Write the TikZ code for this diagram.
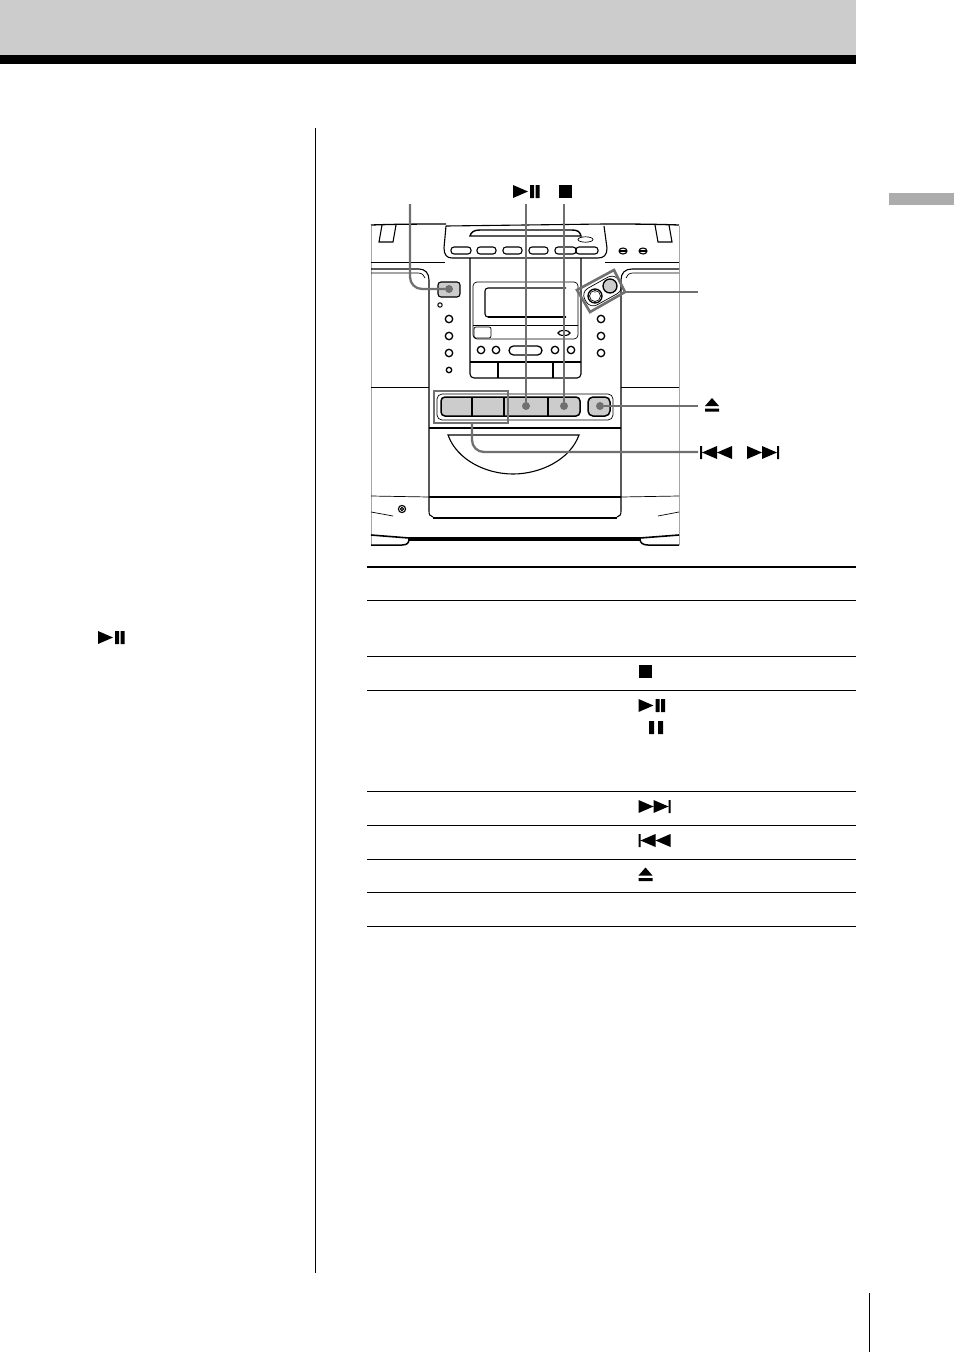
\documentclass[tikz,border=0pt]{standalone}
\usepackage{tikz}
\usetikzlibrary{calc}
\definecolor{callgray}{HTML}{707070}
\definecolor{keygray}{HTML}{CCCCCC}
\tikzset{
    outline/.style={black, line width=1.1pt},
    thinline/.style={black, line width=0.7pt},
    sideline/.style={gray!70, line width=0.8pt},
    rule/.style={black, line width=0.8pt},
    callout/.style={callgray, line width=2.3pt, rounded corners=12pt},
    framebox/.style={callgray, line width=2.6pt},
    keydot/.style={circle, fill=callgray, inner sep=0pt, minimum size=8pt},
    knob/.style={outline, line width=1.3pt},
    pics/stopmark/.style={code={\fill (0,0) rectangle (13.5,13);}},
    pics/pausemark/.style={code={\fill (0,0) rectangle (5,13) (9,0) rectangle (14,13);}},
    pics/playpause/.style={code={\fill (0,0) -- (15,6.5) -- (0,13) -- cycle (17,0) rectangle (21,13) (22.5,0) rectangle (26.5,13);}},
    pics/nextmark/.style={code={\fill (0,0) -- (15,6.5) -- (0,13) -- cycle (15,0) -- (30,6.5) -- (15,13) -- cycle (30,0) rectangle (32,13);}},
    pics/prevmark/.style={code={\fill (32,0) -- (17,6.5) -- (32,13) -- cycle (17,0) -- (2,6.5) -- (17,13) -- cycle (0,0) rectangle (2,13);}},
    pics/ejectmark/.style={code={\fill (0,8) -- (7,0) -- (14,8) -- cycle (0,10.5) rectangle (14,13.5);}},
}
\begin{document}
\begin{tikzpicture}[x=1pt, y=-1pt]
    \useasboundingbox (0,0) rectangle (954,1352);
    % page furniture
    \fill[keygray] (0,0) rectangle (856,55);
    \fill[black] (0,55) rectangle (856,64);
    \fill[gray!65] (889,193) rectangle (954,205);
    \draw[thinline, line width=1pt] (315.5,128) -- (315.5,1273);
    \draw[thinline, line width=1pt] (869.5,1293) -- (869.5,1352);
    % table rules
    \draw[rule, line width=1.4pt] (367,567) -- (856,567);
    \foreach \y in {600,656,690,791,825,859,892,926} {
        \draw[rule] (367,\y) -- (856,\y);
    }
    % cabinet
    \draw[sideline] (371,226) -- (371,545) (679,226) -- (679,545);
    \draw[outline, line width=1.3pt] (371,225) .. controls (400,224) and (430,224) .. (446,224);
    \draw[outline, line width=1.3pt] (604,224) .. controls (625,224) and (650,224) .. (679,225);
    \draw[outline] (382,225) -- (379,242) -- (393,242) -- (396,225);
    \draw[outline] (655,225) -- (658,242) -- (672,242) -- (669,225);
    \draw[outline] (446,226) -- (444,248) .. controls (444,255) and (447,258) .. (452,258) -- (598,258) .. controls (604,258) and (607,255) .. (607,248) -- (604,226);
    \draw[outline] (446,226) -- (604,224);
    \draw[outline, line width=1.4pt] (470,236) .. controls (471,232) and (474,230) .. (480,230) -- (572,230) .. controls (578,230) and (580,232) .. (581,236) -- cycle;
    \draw[thinline] (578,239.5) arc[start angle=180, end angle=540, x radius=7.5, y radius=2.7];
    \foreach \xa/\xb in {451/471,477/496,503/522,529/548,555/576,576/598} {
        \draw[outline, rounded corners=3pt] (\xa,247) rectangle (\xb,254);
    }
    \foreach \x in {623,643} {
        \draw[outline] (\x,251) circle[x radius=4, y radius=3];
        \draw[outline] (\x-3,251) -- (\x+3,251);
    }
    \draw[thinline] (371,262) -- (445,262) (605,262) -- (679,262);
    % speakers and centre column
    \draw[outline] (371,269) -- (419,269) .. controls (425,269) and (429,273) .. (429,280) -- (429,511) .. controls (429,515) and (430,516) .. (433,517);
    \draw[thinline] (371,273) -- (418,273) .. controls (422,273) and (424,275) .. (425,278);
    \draw[outline] (679,269) -- (632,269) .. controls (625,269) and (621,273) .. (621,280) -- (621,511) .. controls (621,515) and (620,516) .. (617,517);
    \draw[thinline] (679,273) -- (633,273) .. controls (629,273) and (627,275) .. (626,278);
    \draw[outline, line width=2pt] (433,518) -- (617,518);
    \draw[outline, rounded corners=4pt] (470,258) -- (470,378) -- (581,378) -- (581,258);
    \draw[outline] (470,362) -- (581,362) (498,362) -- (498,378) (553,362) -- (553,378);
    \draw[thinline] (371,387) -- (429,387) (621,387) -- (679,387);
    \draw[outline] (429,428) -- (621,428);
    % display
    \draw[thinline, rounded corners=4pt] (473,339) -- (473,282) -- (578,282) -- (578,339) -- cycle;
    \draw[thinline] (473,325) -- (578,325);
    \draw[outline, rounded corners=3pt] (566,288) -- (485,288) -- (485,317) -- (566,317);
    \draw[black, line width=2pt] (488,317) -- (566,317);
    \draw[thinline, rounded corners=2pt] (474,327) rectangle (491,338);
    \draw[outline] (564,333) circle[x radius=6, y radius=2.5];
    \foreach \x in {481,496,555,571} {
        \draw[knob] (\x,350) circle[radius=3.7];
    }
    \draw[knob, rounded corners=4.5pt] (509,346) rectangle (542,355);
    % side keys
    \draw[thinline, line width=1pt] (440,305) circle[radius=2.2];
    \foreach \y in {319,336,353} {
        \draw[knob] (449,\y) circle[radius=3.7];
        \draw[knob] (601,\y) circle[radius=3.7];
    }
    \draw[knob] (449,370) circle[radius=2.7];
    \draw[outline, fill=keygray, rounded corners=3pt] (438,282) rectangle (460,297);
    % volume knobs
    \draw[thinline, rounded corners=8pt, rotate around={29:(602.5,291)}] (583,281.5) rectangle (622,300.5);
    \draw[knob] (595,296) circle[radius=7];
    \fill[black] (595,292) circle[radius=0.7];
    \draw[thinline] (595,296) circle[radius=5.5];
    \draw[knob, fill=keygray] (610,286) circle[radius=7];
    % tape keys
    \draw[thinline, rounded corners=5pt] (437,394) rectangle (613,420);
    \draw[outline, line width=1.5pt, fill=keygray, rounded corners=4pt] (441,397) rectangle (580,416);
    \draw[outline] (472,397) -- (472,416) (504,397) -- (504,416) (548,397) -- (548,416);
    \draw[outline, line width=1.5pt, fill=keygray, rounded corners=5pt] (588,397) rectangle (610,416);
    % cassette door
    \draw[outline] (448,435) -- (579,435) .. controls (570,460) and (540,474) .. (513,474) .. controls (486,474) and (457,460) .. (448,435) -- cycle;
    % lower edge
    \draw[outline] (429,497) -- (621,497);
    \draw[thinline] (371,496) -- (429,497) (621,497) -- (679,496);
    \draw[thinline] (371,512) -- (393,516) (658,516) -- (679,512);
    \draw[outline] (402,509) circle[radius=3.6];
    \draw[outline] (402,509) circle[radius=1.6];
    \draw[black, line width=1.6pt] (371,535) -- (409,538) (640,538) -- (679,535);
    \draw[black, line width=3.2pt] (409,539) -- (640,539);
    \draw[outline, line width=1.5pt] (371,545) -- (402,545) .. controls (407,545) and (409,543) .. (409,539);
    \draw[outline, line width=1.5pt] (679,545) -- (648,545) .. controls (643,545) and (640,543) .. (640,539);
    % call-outs
    \draw[framebox] (434,391) rectangle (508,423);
    \draw[framebox] (577,290) -- (614,270) -- (625,292) -- (590,312) -- cycle;
    \node[keydot] (power) at (449,289) {};
    \node[keydot] (play) at (526,406) {};
    \node[keydot] (stop) at (564,406) {};
    \node[keydot] (eject) at (600,406) {};
    \coordinate (powerend) at (410,204);
    \coordinate (playend) at (526,204);
    \coordinate (stopend) at (564,204);
    \coordinate (knobs) at (625,292);
    \coordinate (knobsend) at (698,292);
    \coordinate (ejectend) at (698,406);
    \coordinate (skip) at (472,423);
    \coordinate (skipend) at (698,452);
    \draw[callout] (powerend) |- (power);
    \draw[callout] (playend) -- (play);
    \draw[callout] (stopend) -- (stop);
    \draw[callout] (knobs) -- (knobsend);
    \draw[callout] (eject) -- (ejectend);
    \draw[callout] (skip) |- (skipend);
    % symbols
    \pic at (513,185) {playpause};
    \pic at (558.5,185) {stopmark};
    \pic at (705,398) {ejectmark};
    \pic at (700,446) {prevmark};
    \pic at (747,446) {nextmark};
    \pic at (98,631) {playpause};
    \pic at (638.5,665) {stopmark};
    \pic at (638.5,699) {playpause};
    \pic at (649,721) {pausemark};
    \pic at (638.5,800) {nextmark};
    \pic at (638.5,834) {prevmark};
    \pic at (638.5,867.5) {ejectmark};
\end{tikzpicture}
\end{document}
